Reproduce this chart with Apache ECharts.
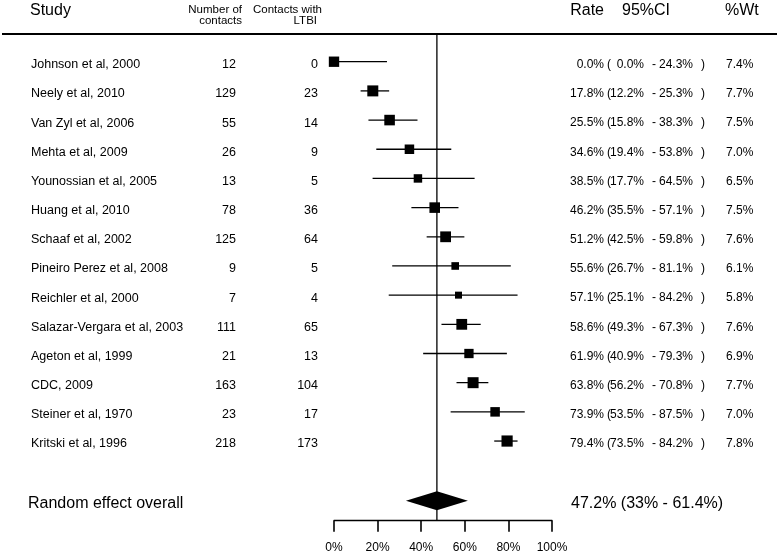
<!DOCTYPE html>
<html>
<head>
<meta charset="utf-8">
<script src="https://cdn.jsdelivr.net/npm/echarts@6/dist/echarts.min.js"></script>
<style>html,body{margin:0;padding:0;background:#fff;}#c{width:780px;height:551px;}</style>
</head>
<body>
<div id="c"></div>
<script>
const studies = ['Johnson et al, 2000','Neely et al, 2010','Van Zyl et al, 2006','Mehta et al, 2009','Younossian et al, 2005','Huang et al, 2010','Schaaf et al, 2002','Pineiro Perez et al, 2008','Reichler et al, 2000','Salazar-Vergara et al, 2003','Ageton et al, 1999','CDC, 2009','Steiner et al, 1970','Kritski et al, 1996'];
const contacts = [12,129,55,26,13,78,125,9,7,111,21,163,23,218];
const ltbi = [0,23,14,9,5,36,64,5,4,65,13,104,17,173];
const rates = [0.0,17.8,25.5,34.6,38.5,46.2,51.2,55.6,57.1,58.6,61.9,63.8,73.9,79.4];
const ciLow = [0.0,12.2,15.8,19.4,17.7,35.5,42.5,26.7,25.1,49.3,40.9,56.2,53.5,73.5];
const ciHigh = [24.3,25.3,38.3,53.8,64.5,57.1,59.8,81.1,84.2,67.3,79.3,70.8,87.5,84.2];
const weights = [7.4,7.7,7.5,7.0,6.5,7.5,7.6,6.1,5.8,7.6,6.9,7.7,7.0,7.8];
const overallRate = 47.2, overallLow = 33, overallHigh = 61.4;
const overallLabel = 'Random effect overall';

const FONT = 'Liberation Sans, Arial, sans-serif';
const Y_MIN = -0.95, Y_MAX = 15.73, OVERALL_ROW = 15.05;
const TXT_DY = 3;
function fmt(v){ return v.toFixed(1) + '%'; }
function sq(w){ return 7 + (w - 5.8) * 2.1; }
function txt(text, x, y, align, size){
  return {type:'text', x:x, y:y, style:{text:text, fill:'#000', fontSize:size||12, fontFamily:FONT, align:align, verticalAlign:'middle'}};
}

const chart = echarts.init(document.getElementById('c'), null, {renderer:'canvas'});
chart.setOption({
  animation:false,
  backgroundColor:'#fff',
  grid:{left:334, right:228, top:34, bottom:30.3, containLabel:false, outerBoundsMode:'none'},
  xAxis:{type:'value', min:0, max:100, interval:20, position:'bottom',
    axisLine:{show:true, onZero:false, lineStyle:{color:'#000', width:1.4}},
    axisTick:{show:true, length:11, lineStyle:{color:'#000', width:1.6}},
    axisLabel:{color:'#000', fontSize:12, fontFamily:FONT, margin:21, formatter:function(v){return v + '%';}},
    splitLine:{show:false}},
  yAxis:{type:'value', inverse:true, min:Y_MIN, max:Y_MAX, show:false, splitLine:{show:false}},
  graphic:[
    {type:'line', shape:{x1:2, y1:34, x2:777, y2:34}, style:{stroke:'#000', lineWidth:2}},
    {type:'text', x:30, y:11, style:{text:'Study', fill:'#000', fontSize:16, fontFamily:FONT, align:'left', verticalAlign:'middle'}},
    {type:'text', x:242, y:10, style:{text:'Number of', fill:'#000', fontSize:11.5, fontFamily:FONT, align:'right', verticalAlign:'middle'}},
    {type:'text', x:242, y:20.5, style:{text:'contacts', fill:'#000', fontSize:11.5, fontFamily:FONT, align:'right', verticalAlign:'middle'}},
    {type:'text', x:322, y:10, style:{text:'Contacts with', fill:'#000', fontSize:11.5, fontFamily:FONT, align:'right', verticalAlign:'middle'}},
    {type:'text', x:317, y:20.5, style:{text:'LTBI', fill:'#000', fontSize:11.5, fontFamily:FONT, align:'right', verticalAlign:'middle'}},
    {type:'text', x:604, y:11, style:{text:'Rate', fill:'#000', fontSize:16, fontFamily:FONT, align:'right', verticalAlign:'middle'}},
    {type:'text', x:622, y:11, style:{text:'95%CI', fill:'#000', fontSize:16, fontFamily:FONT, align:'left', verticalAlign:'middle'}},
    {type:'text', x:725, y:11, style:{text:'%Wt', fill:'#000', fontSize:16, fontFamily:FONT, align:'left', verticalAlign:'middle'}}
  ],
  series:[
    {type:'custom', clip:false, silent:true,
      data:[[overallRate, Y_MIN, Y_MAX]],
      renderItem:function(params, api){
        const a = api.coord([api.value(0), api.value(1)]);
        const b = api.coord([api.value(0), api.value(2)]);
        return {type:'line', shape:{x1:a[0], y1:a[1], x2:b[0], y2:b[1]}, style:{stroke:'#000', lineWidth:1.3}};
      }},
    {type:'custom', clip:false, silent:true,
      data:studies.map(function(s,i){ return [i, rates[i], ciLow[i], ciHigh[i], weights[i]]; }),
      renderItem:function(params, api){
        const i = api.value(0);
        const c = api.coord([api.value(1), i]);
        const lo = api.coord([api.value(2), i]);
        const hi = api.coord([api.value(3), i]);
        const s = sq(api.value(4));
        const ty = c[1] + TXT_DY;
        return {type:'group', children:[
          {type:'line', shape:{x1:lo[0], y1:lo[1], x2:hi[0], y2:hi[1]}, style:{stroke:'#000', lineWidth:1.3}},
          {type:'rect', shape:{x:c[0]-s/2, y:c[1]-s/2, width:s, height:s}, style:{fill:'#000'}},
          txt(studies[i], 31, ty, 'left', 12.5),
          txt(String(contacts[i]), 236, ty, 'right', 12.5),
          txt(String(ltbi[i]), 318, ty, 'right', 12.5),
          txt(fmt(rates[i]), 604, ty, 'right'),
          txt('(', 607, ty, 'left'),
          txt(fmt(ciLow[i]), 644, ty, 'right'),
          txt('-', 654, ty, 'center'),
          txt(fmt(ciHigh[i]), 693, ty, 'right'),
          txt(')', 701, ty, 'left'),
          txt(fmt(weights[i]), 726, ty, 'left')
        ]};
      }},
    {type:'custom', clip:false, silent:true,
      data:[[OVERALL_ROW, overallRate, overallLow, overallHigh]],
      renderItem:function(params, api){
        const r = api.value(0);
        const c = api.coord([api.value(1), r]);
        const l = api.coord([api.value(2), r]);
        const h = api.coord([api.value(3), r]);
        const hh = 9.5;
        return {type:'group', children:[
          {type:'polygon', shape:{points:[[l[0], c[1]], [c[0], c[1]-hh], [h[0], c[1]], [c[0], c[1]+hh]]}, style:{fill:'#000'}},
          txt(overallLabel, 28, c[1]+2.5, 'left', 16),
          txt(overallRate + '% (' + overallLow + '% - ' + overallHigh + '%)', 571, c[1]+2.5, 'left', 16)
        ]};
      }}
  ]
});
</script>
</body>
</html>
